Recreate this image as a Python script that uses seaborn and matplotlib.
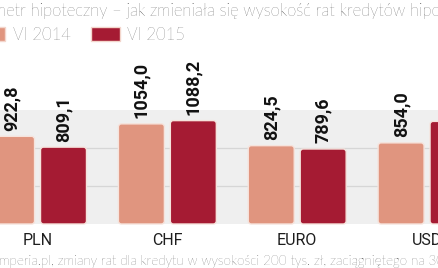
import matplotlib
matplotlib.use("Agg")
import matplotlib.pyplot as plt
from matplotlib.patches import FancyBboxPatch
import pandas as pd
import seaborn as sns

# dane: rata kredytu hipotecznego (zł)
waluty = ["PLN", "CHF", "EURO", "USD"]
rata_2014 = [922.8, 1054.0, 824.5, 854.0]
rata_2015 = [809.1, 1088.2, 789.6, 1080.0]
okresy = ["VI 2014", "VI 2015"]
kolory = ["#e0957f", "#a51b33"]

df = pd.DataFrame({
    "waluta": waluty * 2,
    "rata": rata_2014 + rata_2015,
    "okres": [okresy[0]] * 4 + [okresy[1]] * 4,
})

sns.set_style("white")
plt.rcParams['font.family'] = ['Lato', 'DejaVu Sans']

fig = plt.figure(figsize=(4.39, 2.68), dpi=100)
ax = fig.add_axes([0, 44 / 268, 1, 114 / 268])
ax.set_facecolor("#efefef")

sns.barplot(data=df, x="waluta", y="rata", hue="okres", palette=kolory,
            saturation=1, width=0.8, gap=0.115, ax=ax, zorder=3)

ax.set_ylim(0, 1200)
ax.set_xlim(-0.289, 3.092)
ax.set_yticks([400, 800])
ax.yaxis.grid(True, color="#d6d6d6", linewidth=0.9, zorder=0)
ax.set_axisbelow(True)
ax.tick_params(axis="y", left=False, labelleft=False)
ax.tick_params(axis="x", bottom=False, pad=3)
for lbl in ax.get_xticklabels():
    lbl.set_fontfamily(["Roboto", "DejaVu Sans"])
    lbl.set_fontsize(11.5)
    lbl.set_color("#1e1e1e")
ax.set_xlabel("")
ax.set_ylabel("")
for s in ax.spines.values():
    s.set_visible(False)

# zaokraglone slupki + etykiety
px_x = 1 / 129.8   # jednostek x na piksel
px_y = 1200 / 114  # jednostek y na piksel
for cont in ax.containers:
    for bar in cont:
        x0, w, h = bar.get_x(), bar.get_width(), bar.get_height()
        fc = bar.get_facecolor()
        bar.set_visible(False)
        r = 3 * px_x
        p = FancyBboxPatch((x0, 0), w, h,
                           boxstyle=f"round,pad=0,rounding_size={r}",
                           mutation_aspect=px_y / px_x,
                           facecolor=fc, edgecolor="#f6e3dc", linewidth=1.0,
                           zorder=3, clip_on=False)
        ax.add_patch(p)
        ax.annotate(f"{h:.1f}".replace(".", ","), (x0 + w / 2, h),
                    xytext=(0, 4), textcoords="offset points",
                    rotation=90, ha="center", va="bottom",
                    fontsize=13, fontweight="bold", color="#111111",
                    family=["Roboto", "DejaVu Sans"],
                    annotation_clip=False)

sns.move_legend(ax, loc="center left", bbox_to_anchor=(-24 / 439, 1 - 34.5 / 268),
                bbox_transform=fig.transFigure, ncol=2, frameon=False, title=None,
                fontsize=12, handlelength=1.74, handleheight=0.9,
                handletextpad=0.45, columnspacing=1.2, borderpad=0, borderaxespad=0)
for t in ax.get_legend().get_texts():
    t.set_color("#2e2e2e")
    t.set_fontweight("light")
for hdl in ax.get_legend().legend_handles:
    hdl.set_edgecolor("#f3d6cc")
    hdl.set_linewidth(1.0)

fig.text(-40 / 439, 1 - 16 / 268,
         "Barometr hipoteczny – jak zmieniała się wysokość rat kredytów hipotecznych",
         fontsize=12, fontweight="light", color="#262626", va="baseline", ha="left")
fig.text(-63 / 439, 3.5 / 268,
         "Źródło: Comperia.pl, zmiany rat dla kredytu w wysokości 200 tys. zł, zaciągniętego na 30 lat",
         fontsize=9.6, fontweight="light", color="#262626", va="baseline", ha="left")

fig.savefig("out.png", dpi=100)
